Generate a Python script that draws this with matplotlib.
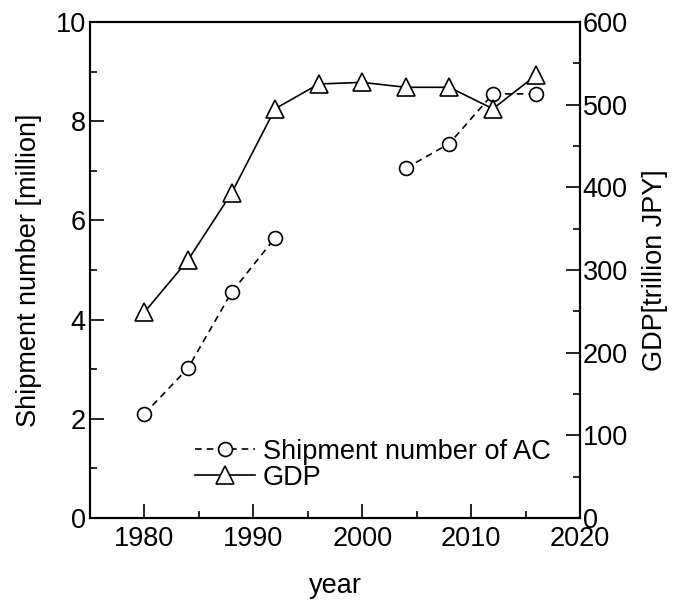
import matplotlib
matplotlib.use('Agg')
import matplotlib.pyplot as plt
import numpy as np

plt.rcParams['font.family'] = ['Liberation Sans', 'DejaVu Sans']

# data
years = [1980, 1984, 1988, 1992, 1996, 2000, 2004, 2008, 2012, 2016]
shipments = [2.10, 3.02, 4.55, 5.65, np.nan, np.nan, 7.05, 7.55, 8.55, 8.55]   # million units
gdp = [249, 312, 393, 495, 525, 527, 521, 521, 495, 536]                        # trillion JPY

FS = 19.5

fig = plt.figure(figsize=(6.79, 6.03), dpi=100)
ax = fig.add_axes([90 / 679, 1 - 518 / 603, 490 / 679, 496 / 603])
ax2 = ax.twinx()

l1, = ax.plot(years, shipments, color='black', lw=1.2, dashes=(4, 3),
              marker='o', markersize=10, markerfacecolor='white',
              markeredgecolor='black', markeredgewidth=1.2,
              label='Shipment number of AC')
l2, = ax2.plot(years, gdp, color='black', lw=1.2, linestyle='-',
               marker='^', markersize=13, markerfacecolor='white',
               markeredgecolor='black', markeredgewidth=1.2, label='GDP')

ax.set_xlim(1975, 2020)
ax.set_ylim(0, 10)
ax2.set_ylim(0, 600)

ax.set_xticks([1980, 1990, 2000, 2010, 2020])
ax.set_xticks([1985, 1995, 2005, 2015], minor=True)
ax.set_yticks([0, 2, 4, 6, 8, 10])
ax.set_yticks([1, 3, 5, 7, 9], minor=True)
ax2.set_yticks([0, 100, 200, 300, 400, 500, 600])
ax2.set_yticks([50, 150, 250, 350, 450, 550], minor=True)

for a in (ax, ax2):
    a.tick_params(which='major', direction='in', length=10, width=1.2,
                  labelsize=FS, pad=4)
    a.tick_params(which='minor', direction='in', length=5, width=1.2)
    for s in a.spines.values():
        s.set_linewidth(1.5)
ax.tick_params(axis='x', which='both', top=False, pad=6)
ax.tick_params(axis='y', pad=3)
ax2.tick_params(axis='y', pad=2)

ax.set_xlabel('year', fontsize=FS, labelpad=15)
ax.set_ylabel('Shipment number [million]', fontsize=FS, labelpad=10)
ax2.set_ylabel('GDP[trillion JPY]', fontsize=FS, labelpad=10, rotation=90)

ax.legend(handles=[l1, l2], loc='lower left', bbox_to_anchor=(0.215, 0.055),
          frameon=False, fontsize=FS, handlelength=2.2, handletextpad=0.3,
          labelspacing=0.0, borderpad=0, borderaxespad=0)

plt.savefig('out.png', dpi=100, facecolor='white')
plt.close()
